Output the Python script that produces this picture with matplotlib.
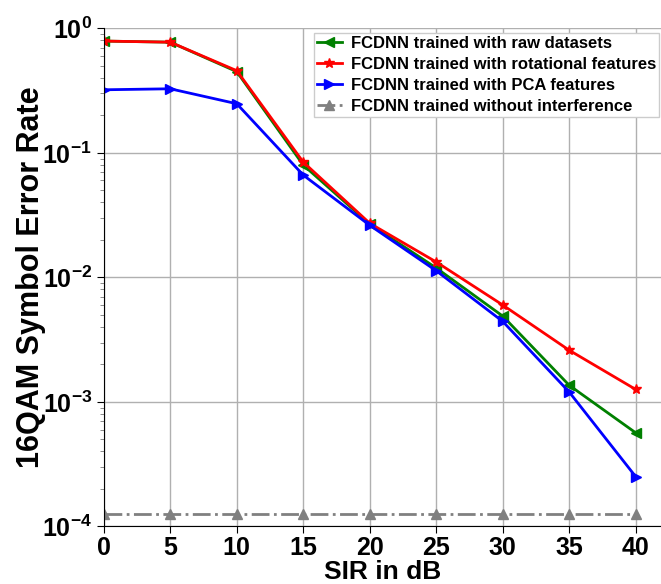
import numpy as np
import matplotlib
matplotlib.use('Agg')
import matplotlib.pyplot as plt

plt.rcParams['font.family'] = ['Liberation Sans', 'DejaVu Sans']
plt.rcParams['font.weight'] = 'bold'
plt.rcParams['mathtext.fontset'] = 'custom'
plt.rcParams['mathtext.rm'] = 'Liberation Sans:bold'
plt.rcParams['mathtext.bf'] = 'Liberation Sans:bold'
plt.rcParams['mathtext.default'] = 'bf'

# SIR values and symbol error rates for each training setup
sir_db = [0, 5, 10, 15, 20, 25, 30, 35, 40]
ser_raw = [0.79, 0.774, 0.449, 0.0798, 0.0268, 0.0119, 0.00489, 0.00136, 0.000565]
ser_rot = [0.79, 0.774, 0.457, 0.0843, 0.0272, 0.0133, 0.0060, 0.0026, 0.00126]
ser_pca = [0.321, 0.327, 0.248, 0.0663, 0.0262, 0.0113, 0.00443, 0.0012, 0.000251]
ser_clean = [1.26e-4] * 9

labels = ['FCDNN trained with raw datasets',
          'FCDNN trained with rotational features',
          'FCDNN trained with PCA features',
          'FCDNN trained without interference']

fig = plt.figure(figsize=(6.61, 5.84), dpi=100)
ax = fig.add_axes([0.157, 0.0985, 0.843, 0.853])

ax.semilogy(sir_db, ser_raw, color='g', marker='<', lw=2, ms=7, label=labels[0])
ax.semilogy(sir_db, ser_rot, color='r', marker='*', lw=2, ms=7, label=labels[1])
ax.semilogy(sir_db, ser_pca, color='b', marker='>', lw=2, ms=7, label=labels[2])
ax.semilogy(sir_db, ser_clean, color='gray', marker='^', ls='-.', lw=2, ms=7, label=labels[3])

ax.set_xlim(0, 41.9)
ax.set_ylim(1e-4, 1)
ax.set_xticks(sir_db)
ax.grid(True, which='major', color='#b0b0b0', lw=1)
ax.spines['top'].set_visible(False)
ax.spines['right'].set_visible(False)
ax.tick_params(axis='both', which='major', labelsize=18, length=5)
ax.tick_params(axis='x', which='major', pad=2)
ax.tick_params(axis='y', which='minor', length=3, color='#777777')
for lab in ax.get_xticklabels() + ax.get_yticklabels():
    lab.set_fontweight('bold')

ax.set_xlabel('SIR in dB', fontsize=19, fontweight='bold', labelpad=0)
ax.set_ylabel('16QAM Symbol Error Rate', fontsize=22, fontweight='bold', labelpad=-3)

ax.legend(loc='upper left', bbox_to_anchor=(314 / 661, 1 - 33 / 584),
          bbox_transform=fig.transFigure, fontsize=12, fancybox=False,
          framealpha=1, edgecolor='#cccccc', borderaxespad=0, borderpad=0.2,
          handlelength=1.45, handletextpad=0.55, labelspacing=0.35)

fig.savefig('out.png', dpi=100)
